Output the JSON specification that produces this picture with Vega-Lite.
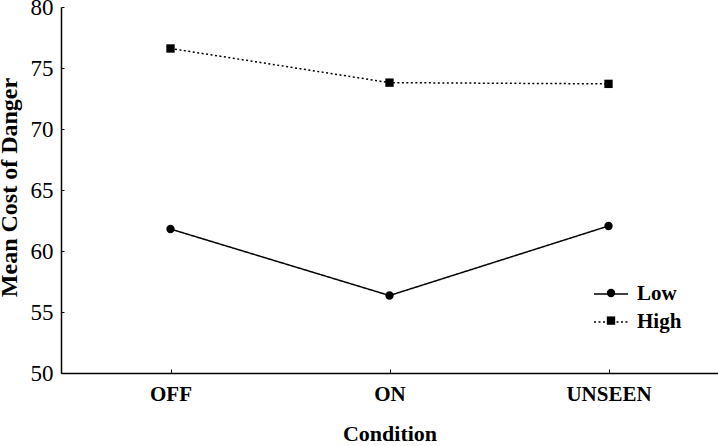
{
  "$schema": "https://vega.github.io/schema/vega-lite/v6.json",
  "width": 657,
  "height": 366,
  "autosize": {"type": "none"},
  "padding": {"left": 61, "top": 7, "right": 0, "bottom": 73},
  "background": "white",
  "config": {
    "view": {"stroke": null},
    "font": "Liberation Serif",
    "axis": {"grid": false, "domainColor": "black", "tickColor": "black", "labelColor": "black", "titleColor": "black", "labelFont": "Liberation Serif", "titleFont": "Liberation Serif", "domainWidth": 1.5}
  },
  "data": {"values": [
    {"condition": "OFF", "group": "Low", "cost": 61.8},
    {"condition": "ON", "group": "Low", "cost": 56.35},
    {"condition": "UNSEEN", "group": "Low", "cost": 62.05},
    {"condition": "OFF", "group": "High", "cost": 76.6},
    {"condition": "ON", "group": "High", "cost": 73.8},
    {"condition": "UNSEEN", "group": "High", "cost": 73.7}
  ]},
  "encoding": {
    "x": {"field": "condition", "type": "nominal", "sort": ["OFF", "ON", "UNSEEN"],
      "scale": {"type": "point", "padding": 0.5},
      "axis": {"title": "Condition", "labelAngle": 0, "labelFontSize": 21, "labelFontWeight": "bold", "labelPadding": 14, "tickSize": -4, "titleFontSize": 22, "titleFontWeight": "bold", "titleY": 67, "titleBaseline": "alphabetic"}},
    "y": {"field": "cost", "type": "quantitative",
      "scale": {"domain": [50, 80], "nice": false, "zero": false},
      "axis": {"title": "Mean Cost of Danger", "values": [50, 55, 60, 65, 70, 75, 80], "labelFontSize": 23, "labelPadding": 11, "tickSize": -3, "titleFontSize": 24, "titleFontWeight": "bold", "titleX": -52, "titleY": 180, "titleAngle": -90, "titleBaseline": "middle", "titleAlign": "center"}}
  },
  "layer": [
    {
      "mark": {"type": "line", "color": "black", "strokeWidth": 1.5},
      "encoding": {
        "detail": {"field": "group", "type": "nominal"},
        "strokeDash": {"field": "group", "type": "nominal",
          "scale": {"domain": ["High", "Low"], "range": [[2, 2.5], [1, 0]]},
          "legend": {"title": null, "orient": "none", "legendX": 532, "legendY": 269, "values": ["Low", "High"], "symbolType": "stroke", "symbolSize": 1156, "symbolStrokeColor": "black", "symbolStrokeWidth": 1.5, "labelFontSize": 21, "labelFontWeight": "bold", "labelColor": "black", "labelFont": "Liberation Serif", "labelOffset": 8, "rowPadding": 0}}
      }
    },
    {
      "mark": {"type": "point", "filled": true, "color": "black", "opacity": 1, "size": 70},
      "encoding": {
        "shape": {"field": "group", "type": "nominal",
          "scale": {"domain": ["Low", "High"], "range": ["circle", "square"]},
          "legend": {"title": null, "orient": "none", "legendX": 545, "legendY": 281, "labelExpr": "''", "symbolSize": 70, "symbolFillColor": "black", "symbolStrokeColor": "black", "rowPadding": 11.6}}
      }
    }
  ]
}
